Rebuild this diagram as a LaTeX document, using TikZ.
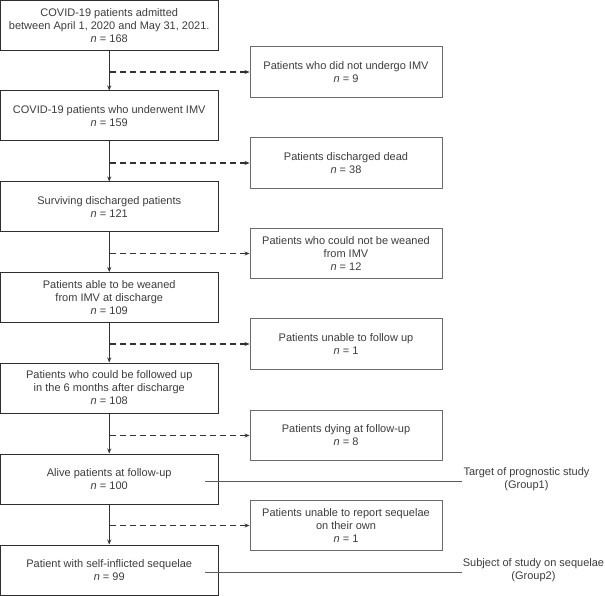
\documentclass[tikz,border=0pt]{standalone}
\usepackage{fontspec}
\setmainfont{Liberation Sans}
\usetikzlibrary{arrows.meta,calc}
\definecolor{txt}{HTML}{3C3C3C}
\definecolor{lbox}{HTML}{2E2E2E}
\definecolor{rbox}{HTML}{6A6A6A}
\definecolor{arr}{HTML}{333333}
\begin{document}
\begin{tikzpicture}[x=1pt,y=-1pt,
  every node/.style={font=\fontsize{11}{13}\selectfont, text=txt},
  lbox/.style={draw=lbox, line width=1pt, minimum width=217.5pt, minimum height=50pt, inner sep=0pt, align=center},
  rbox/.style={draw=rbox, line width=0.9pt, minimum width=192pt, minimum height=50.5pt, inner sep=0pt, align=center},
  mainarr/.style={draw=arr, line width=1.1pt, -{Stealth[length=5pt,width=4pt]}},
  exarr/.style={draw=arr, line width=1.1pt, dash pattern=on 6pt off 4pt, -{Stealth[length=5pt,width=4pt]}},
  grpline/.style={draw=arr!80, line width=0.7pt},
  grplabel/.style={align=center, inner sep=0pt}]
\useasboundingbox (0,0) rectangle (605,596);

\node[lbox] (L1) at (109.25,25.5) {COVID-19 patients admitted\\between April 1, 2020 and May 31, 2021.\\\textit{n} = 168};
\node[lbox] (L2) at (109.25,116) {COVID-19 patients who underwent IMV\\\textit{n} = 159};
\node[lbox] (L3) at (109.25,207) {Surviving discharged patients\\\textit{n} = 121};
\node[lbox] (L4) at (109.25,297.5) {Patients able to be weaned\\from IMV at discharge\\\textit{n} = 109};
\node[lbox] (L5) at (109.25,388) {Patients who could be followed up\\in the 6 months after discharge\\\textit{n} = 108};
\node[lbox] (L6) at (109.25,479) {Alive patients at follow-up\\\textit{n} = 100};
\node[lbox] (L7) at (109.25,570) {Patient with self-inflicted sequelae\\\textit{n} = 99};

\node[rbox] (R1) at (346,72) {Patients who did not undergo IMV\\\textit{n} = 9};
\node[rbox] (R2) at (346,163) {Patients discharged dead\\\textit{n} = 38};
\node[rbox] (R3) at (346,253.5) {Patients who could not be weaned\\from IMV\\\textit{n} = 12};
\node[rbox] (R4) at (346,344) {Patients unable to follow up\\\textit{n} = 1};
\node[rbox] (R5) at (346,435.5) {Patients dying at follow-up\\\textit{n} = 8};
\node[rbox] (R6) at (346,525.5) {Patients unable to report sequelae\\on their own\\\textit{n} = 1};

\node[grplabel] (G1) at (526.5,479) {Target of prognostic study\\(Group1)};
\node[grplabel] (G2) at (533.5,570) {Subject of study on sequelae\\(Group2)};

\foreach \a/\b in {L1/L2,L2/L3,L3/L4,L4/L5,L5/L6,L6/L7}
  \draw[mainarr] (\a.south) -- (\b.north);

\foreach \i/\a in {1/L1,2/L2,3/L3,4/L4,5/L5,6/L6}{
  \coordinate (d\i) at ($(\a.south |- R\i.west)+(1,0)$);
  \draw[exarr] (d\i) -- (R\i.west);
}

\coordinate (t1) at (205,481);
\coordinate (t2) at (205,572);
\draw[grpline] (t1) -- ($(G1.west |- t1)+(-1,0)$);
\draw[grpline] (t2) -- ($(G2.west |- t2)+(-1,0)$);
\end{tikzpicture}
\end{document}
